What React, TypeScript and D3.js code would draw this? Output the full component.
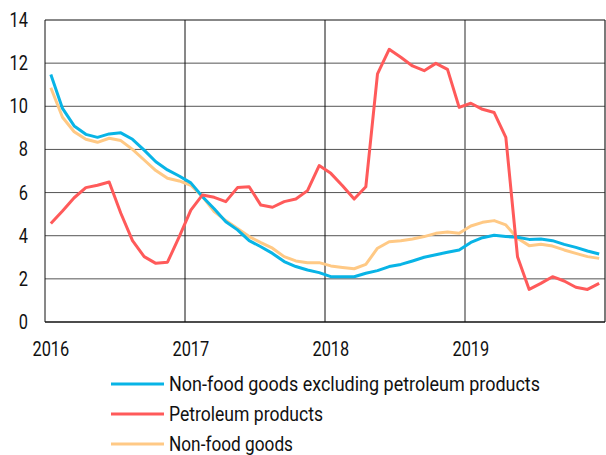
import React from "react";
import * as d3 from "d3";

const years = ["2016", "2017", "2018", "2019"];
const yTicks = [0, 2, 4, 6, 8, 10, 12, 14];

const nonFoodExPetrol = [
  11.47, 9.9, 9.09, 8.7, 8.56, 8.72, 8.77, 8.47, 7.97, 7.43, 7.05, 6.77,
  6.45, 5.81, 5.25, 4.65, 4.27, 3.77, 3.49, 3.18, 2.8, 2.57, 2.41, 2.29,
  2.1, 2.1, 2.1, 2.26, 2.38, 2.57, 2.67, 2.83, 3.0, 3.12, 3.23, 3.34,
  3.69, 3.91, 4.02, 3.96, 3.93, 3.83, 3.85, 3.77, 3.6, 3.46, 3.29, 3.15,
];
const petroleum = [
  4.57, 5.15, 5.76, 6.23, 6.34, 6.49, 5.04, 3.77, 3.03, 2.72, 2.77, 3.95,
  5.19, 5.89, 5.78, 5.58, 6.23, 6.27, 5.42, 5.32, 5.58, 5.7, 6.09, 7.25,
  6.89, 6.32, 5.7, 6.27, 11.5, 12.64, 12.27, 11.87, 11.65, 11.99, 11.71, 9.95,
  10.14, 9.86, 9.71, 8.56, 3.03, 1.51, 1.79, 2.1, 1.9, 1.61, 1.51, 1.79,
];
const nonFood = [
  10.86, 9.49, 8.82, 8.47, 8.33, 8.52, 8.41, 8.0, 7.51, 7.02, 6.66, 6.54,
  6.34, 5.81, 5.12, 4.7, 4.34, 3.96, 3.68, 3.42, 3.03, 2.83, 2.75, 2.75,
  2.6, 2.53, 2.47, 2.67, 3.42, 3.72, 3.77, 3.85, 3.96, 4.11, 4.17, 4.11,
  4.45, 4.62, 4.7, 4.5, 3.88, 3.54, 3.6, 3.52, 3.34, 3.18, 3.03, 2.95,
];

const seriesNames = [
  "Non-food goods excluding petroleum products",
  "Petroleum products",
  "Non-food goods",
];
const seriesColors = ["#08B4E6", "#FF5A5A", "#FFC985"];
const legendWidths = [371, 154, 124];

const W = 606;
const H = 455;
const left = 45;
const right = 605;
const top = 20;
const bottom = 322;

export default function App() {
  const n = nonFoodExPetrol.length;
  const x = d3.scaleLinear().domain([0, n]).range([left, right]);
  const y = d3.scaleLinear().domain([0, 14]).range([bottom, top]);
  const line = d3
    .line<number>()
    .x((_, i) => x(i + 0.5))
    .y((d) => y(d));
  const series = [nonFoodExPetrol, petroleum, nonFood];
  const drawOrder = [2, 0, 1];
  const font = "Roboto, 'Open Sans', sans-serif";

  return (
    <svg
      width={W}
      height={H}
      style={{ position: "absolute", left: 0, top: 0 }}
      fontFamily={font}
    >
      <rect x={0} y={0} width={W} height={H} fill="#fff" />
      {/* horizontal grid */}
      {yTicks
        .filter((t) => t > 0 && t < 14)
        .map((t) => (
          <line
            key={"g" + t}
            x1={left}
            x2={right}
            y1={y(t)}
            y2={y(t)}
            stroke="#555"
            strokeWidth={1}
          />
        ))}
      {/* vertical year lines */}
      {years.slice(1).map((yr, k) => (
        <line
          key={"v" + yr}
          x1={x((k + 1) * 12)}
          x2={x((k + 1) * 12)}
          y1={top}
          y2={bottom}
          stroke={k === 2 ? "#666" : "#111"}
          strokeWidth={k === 2 ? 1.4 : 1}
        />
      ))}
      {/* frame */}
      <line x1={left} x2={right} y1={top} y2={top} stroke="#111" strokeWidth={1} />
      <line x1={left} x2={left} y1={top} y2={bottom} stroke="#111" strokeWidth={1} />
      <line x1={right} x2={right} y1={top} y2={bottom} stroke="#222" strokeWidth={1.2} />
      <line x1={left} x2={right} y1={bottom} y2={bottom} stroke="#111" strokeWidth={1.6} />

      {/* series */}
      {drawOrder.map((si) => (
        <path
          key={"s" + si}
          d={line(series[si]) || ""}
          fill="none"
          stroke={seriesColors[si]}
          strokeWidth={3}
          strokeLinejoin="round"
        />
      ))}

      {/* y tick labels */}
      {yTicks.map((t) => (
        <text
          key={"yt" + t}
          transform={`translate(28,${y(t) + 7}) scale(0.78,1)`}
          textAnchor="end"
          fontSize={21}
          fill="#111"
        >
          {t}
        </text>
      ))}

      {/* x labels */}
      {years.map((yr, k) => (
        <text
          key={"xl" + yr}
          transform={`translate(${x(k * 12 + 0.5)},356) scale(0.78,1)`}
          textAnchor="middle"
          fontSize={21}
          fill="#111"
        >
          {yr}
        </text>
      ))}

      {/* legend */}
      {seriesNames.map((name, k) => {
        const ly = 384 + k * 30;
        return (
          <g key={"lg" + k}>
            <line
              x1={111}
              x2={164}
              y1={ly}
              y2={ly}
              stroke={seriesColors[k]}
              strokeWidth={3}
            />
            <text
              x={169}
              y={ly + 7}
              fontSize={21}
              fill="#111"
              textLength={legendWidths[k]}
              lengthAdjust="spacingAndGlyphs"
            >
              {name}
            </text>
          </g>
        );
      })}
    </svg>
  );
}
